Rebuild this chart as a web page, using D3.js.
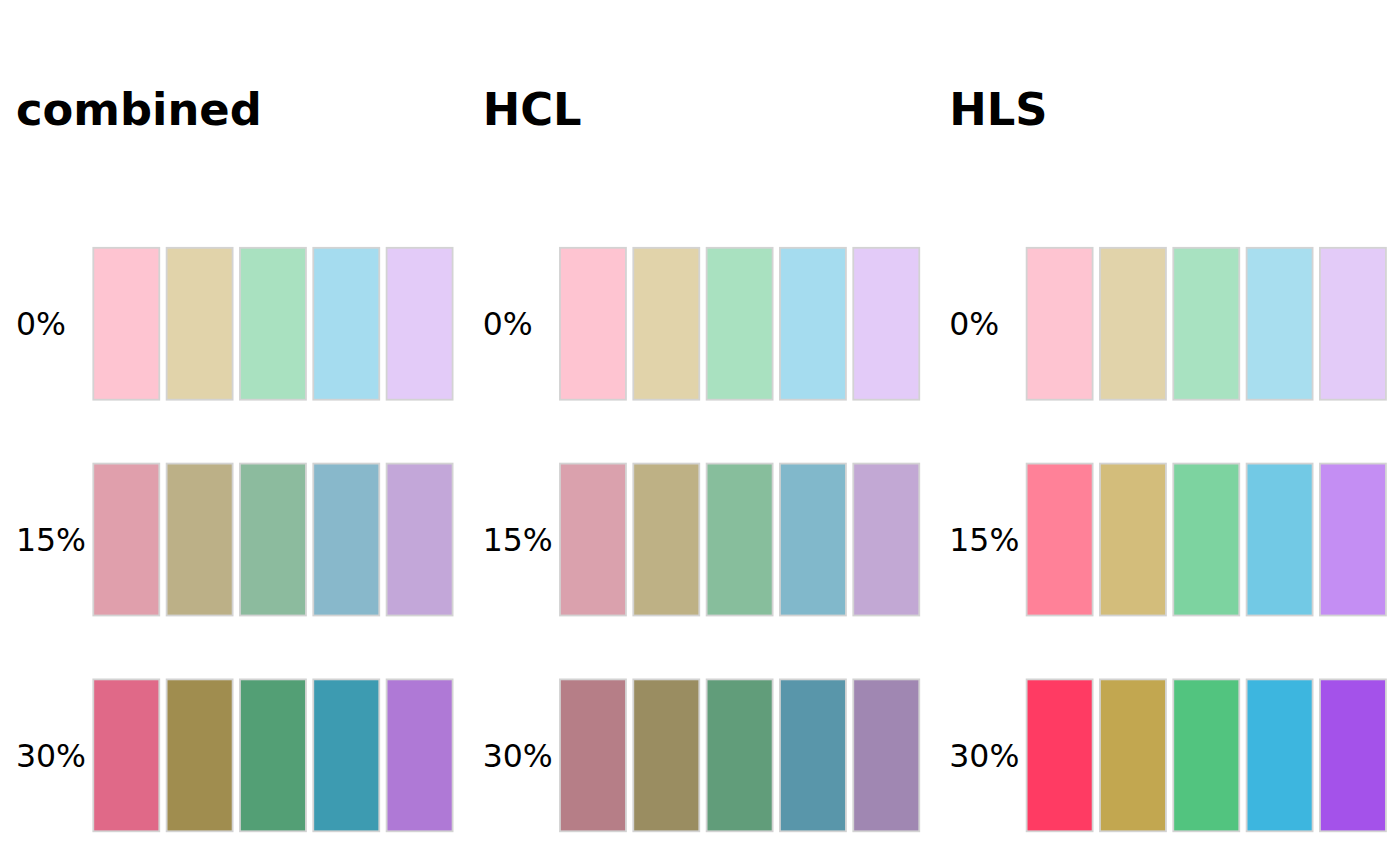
<!DOCTYPE html>
<html>
<head>
<meta charset="utf-8">
<script src="https://cdn.jsdelivr.net/npm/d3@7"></script>
<style>
  body { margin: 0; background: #fff; }
  svg { display: block; }
</style>
</head>
<body>
<div id="chart"></div>
<script>
// panel titles and row labels
const panels = ['combined', 'HCL', 'HLS'];
const levels = ['0%', '15%', '30%'];
const hues = ['pink', 'sand', 'green', 'blue', 'purple'];

// swatch colours, one array per panel, one row per level
const combinedColors = [
    ['#FEC4D1', '#E1D3AA', '#A9E1C0', '#A5DCEF', '#E3CBF8'],
    ['#E09FAC', '#BCB087', '#8CBB9E', '#88B8CB', '#C3A7D9'],
    ['#E06988', '#A08D4F', '#539F75', '#3D9BB1', '#AF79D6']
];
const hclColors = [
    ['#FEC4D1', '#E1D3AA', '#A9E1C0', '#A5DCEF', '#E3CBF8'],
    ['#DAA1AD', '#BEB185', '#87BE9C', '#81B8CB', '#C2A8D4'],
    ['#B67E87', '#9A8D61', '#619D7A', '#5996AA', '#A087B2']
];
const hlsColors = [
    ['#FEC4D1', '#E1D3AA', '#A8E2C1', '#A8DEEF', '#E3CBF8'],
    ['#FF8198', '#D3BD7B', '#7DD3A0', '#72C9E5', '#C48EF3'],
    ['#FF3B63', '#C2A750', '#52C47F', '#3DB6DF', '#A452EA']
];
const colorSets = [combinedColors, hclColors, hlsColors];

const width = 1400, height = 866;
const panelWidth = width / 3;

const svg = d3.select('#chart').append('svg')
    .attr('width', width)
    .attr('height', height);

// scales shared by every panel (local panel coordinates)
const x = d3.scaleBand()
    .domain(hues)
    .range([93.3, 452.6])
    .paddingInner(0.1);

const y = d3.scaleBand()
    .domain(levels)
    .range([247.8, 831.3])
    .paddingInner(0.296);

panels.forEach((name, p) => {
    const g = svg.append('g')
        .attr('transform', `translate(${p * panelWidth},0)`);

    g.append('text')
        .attr('x', 16)
        .attr('y', 125)
        .attr('font-family', 'DejaVu Sans')
        .attr('font-weight', 'bold')
        .attr('font-size', 44.8)
        .attr('fill', '#000')
        .text(name);

    g.selectAll('.row-label')
        .data(levels)
        .join('text')
        .attr('class', 'row-label')
        .attr('x', 16)
        .attr('y', d => y(d) + y.bandwidth() / 2)
        .attr('dy', '0.37em')
        .attr('font-family', 'DejaVu Sans')
        .attr('font-size', 31.5)
        .attr('fill', '#000')
        .text(d => d);

    const cells = [];
    colorSets[p].forEach((row, i) => {
        row.forEach((c, j) => cells.push({ level: levels[i], hue: hues[j], color: c }));
    });

    g.selectAll('.swatch')
        .data(cells)
        .join('rect')
        .attr('class', 'swatch')
        .attr('x', d => x(d.hue))
        .attr('y', d => y(d.level))
        .attr('width', x.bandwidth())
        .attr('height', y.bandwidth())
        .attr('fill', d => d.color)
        .attr('stroke', '#D3D3D3')
        .attr('stroke-width', 1.8);
});
</script>
</body>
</html>
